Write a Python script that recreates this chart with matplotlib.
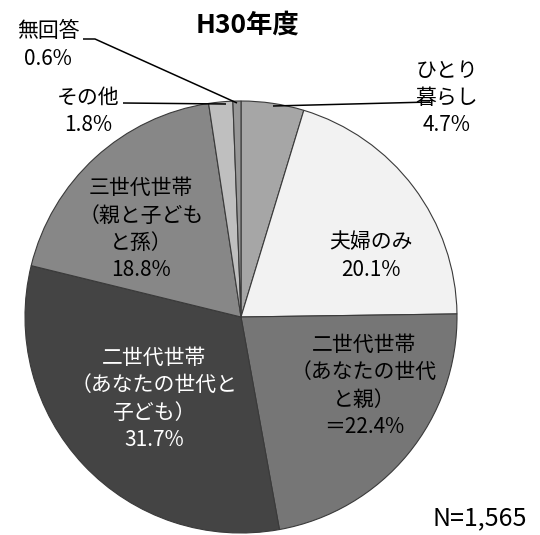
import matplotlib
matplotlib.use("Agg")
import matplotlib.pyplot as plt

plt.rcParams['font.family'] = ['Noto Sans CJK JP', 'DejaVu Sans']

# Data
categories = ["ひとり暮らし", "夫婦のみ", "二世代世帯（あなたの世代と親）",
              "二世代世帯（あなたの世代と子ども）", "三世代世帯（親と子どもと孫）",
              "その他", "無回答"]
values = [4.7, 20.1, 22.4, 31.7, 18.8, 1.8, 0.6]
label_texts = ["ひとり\n暮らし\n4.7%", "夫婦のみ\n20.1%",
               "二世代世帯\n（あなたの世代\nと親）\n＝22.4%",
               "二世代世帯\n（あなたの世代と\n子ども）\n31.7%",
               "三世代世帯\n（親と子ども\nと孫）\n18.8%",
               "その他\n1.8%", "無回答\n0.6%"]
title = "H30年度"
n_text = "N=1,565"

colors = ["#a6a6a6", "#f2f2f2", "#767676", "#444444", "#878787", "#bfbfbf", "#979797"]

W, H = 540, 535
fig = plt.figure(figsize=(W / 100, H / 100), dpi=100)
cx, cy, R = 241, 317, 216
ax = fig.add_axes([(cx - R) / W, (H - cy - R) / H, 2 * R / W, 2 * R / H])

ax.pie(values, colors=colors, startangle=90, counterclock=False, radius=1,
       wedgeprops=dict(edgecolor="#3a3a3a", linewidth=0.8))
ax.set_xlim(-1, 1)
ax.set_ylim(-1, 1)
ax.set_aspect('auto')
ax.axis('off')


def P(px, py):
    return ((px - cx) / R, (cy - py) / R)


fs = 15
ls = 1.3
# inside labels
ax.text(*P(371, 256), label_texts[1], ha='center', va='center', fontsize=fs,
        linespacing=ls, color='black')
ax.text(*P(364, 386), label_texts[2], ha='center', va='center', fontsize=fs,
        linespacing=ls, color='black')
ax.text(*P(154, 399), label_texts[3], ha='center', va='center', fontsize=fs,
        linespacing=ls, color='white')
ax.text(*P(141, 229), label_texts[4], ha='center', va='center', fontsize=fs,
        linespacing=ls, color='black')

# outside labels
ax.text(*P(447, 98), label_texts[0], ha='center', va='center', fontsize=fs,
        linespacing=ls, color='black')
ax.text(*P(88, 111), label_texts[5], ha='center', va='center', fontsize=fs,
        linespacing=ls, color='black')
ax.text(*P(48, 45), label_texts[6], ha='center', va='center', fontsize=fs,
        linespacing=ls, color='black')

# leader lines
def line(pts):
    xs = [P(*p)[0] for p in pts]
    ys = [P(*p)[1] for p in pts]
    ax.plot(xs, ys, color='black', lw=1.1, clip_on=False, solid_capstyle='butt')

line([(430, 102), (273, 106)])
line([(123, 103), (226, 104)])
line([(83, 39), (95, 39), (237, 103)])

fig.text(247 / W, 1 - 25 / H, title, ha='center', va='center', fontsize=19,
         fontweight='bold')
fig.text(527 / W, 1 - 518 / H, n_text, ha='right', va='center', fontsize=18)

fig.savefig("out.png", dpi=100, facecolor='white')
